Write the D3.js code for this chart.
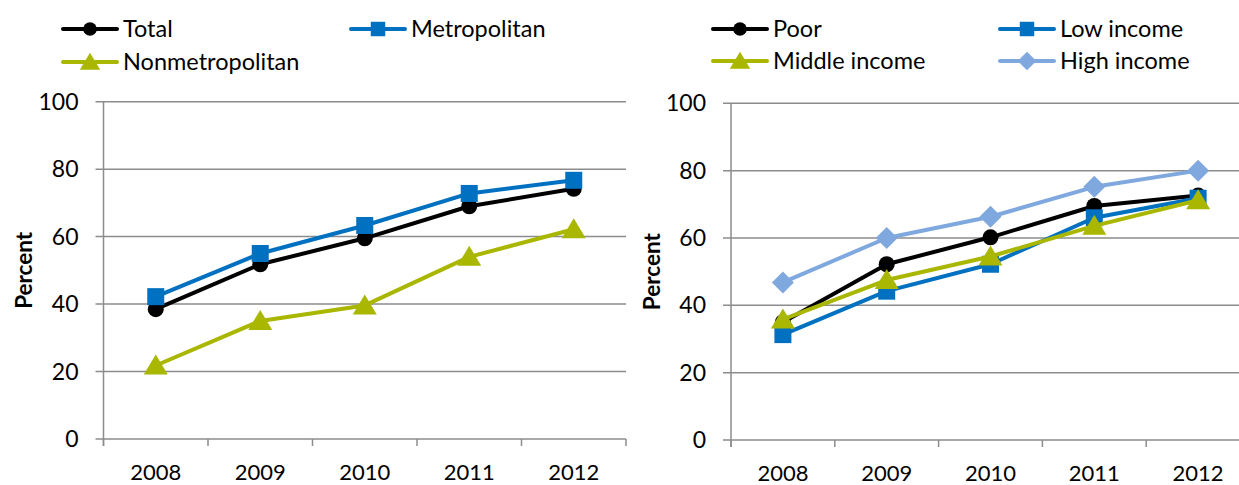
<!DOCTYPE html>
<html>
<head>
<meta charset="utf-8">
<script src="https://cdn.jsdelivr.net/npm/d3@7"></script>
<style>
  body { margin: 0; background: #fff; }
  text { font-family: Lato, "Open Sans", sans-serif; fill: #000; }
</style>
</head>
<body>
<svg id="chart" width="1239" height="485"></svg>
<script>
// data
let years = ["2008", "2009", "2010", "2011", "2012"];
let yTicks = [0, 20, 40, 60, 80, 100];

let total = [38.5, 51.8, 59.5, 69.0, 74.2];
let metropolitan = [42.2, 55.0, 63.3, 72.8, 76.7];
let nonmetropolitan = [21.8, 35.0, 39.6, 54.0, 62.2];

let poor = [35.0, 52.2, 60.2, 69.5, 72.6];
let lowIncome = [31.3, 44.2, 52.2, 66.0, 71.8];
let middleIncome = [35.8, 47.5, 54.5, 63.6, 71.2];
let highIncome = [46.8, 60.0, 66.3, 75.2, 80.0];

let black = "#000000", blue = "#0070c0", olive = "#a9b700", lightBlue = "#7fa8df";

let svg = d3.select("#chart");

// marker shapes
function marker(sel, shape, color, k) {
  k = k || 1;
  if (shape === "circle") {
    sel.append("circle").attr("r", 8 * k).attr("fill", color);
  } else if (shape === "square") {
    sel.append("rect").attr("x", -8.5 * k).attr("y", -8.5 * k)
      .attr("width", 17 * k).attr("height", 17 * k).attr("fill", color);
  } else if (shape === "triangle") {
    sel.append("path").attr("d", "M0,-11L12,9L-12,9Z").attr("fill", color)
      .attr("transform", "scale(" + k + ")");
  } else if (shape === "diamond") {
    sel.append("path").attr("d", "M0,-11L11,0L0,11L-11,0Z").attr("fill", color)
      .attr("transform", "scale(" + k + ")");
  }
}

function drawPanel(left, right, top, bottom, series, legendRows, legendCols) {
  let g = svg.append("g");

  let x = d3.scaleBand().domain(years).range([left, right]);
  let y = d3.scaleLinear().domain([0, 100]).range([bottom, top]);

  // gridlines
  g.selectAll(".grid").data(yTicks).enter().append("line")
    .attr("x1", left - 8).attr("x2", right)
    .attr("y1", d => y(d)).attr("y2", d => y(d))
    .attr("stroke", "#8c8c8c").attr("stroke-width", 1.5);

  // y axis line
  g.append("line")
    .attr("x1", left).attr("x2", left).attr("y1", top).attr("y2", bottom + 7)
    .attr("stroke", "#8c8c8c").attr("stroke-width", 1.5);

  // x ticks between categories
  let edges = years.map(d => x(d)).concat([right]);
  g.selectAll(".xt").data(edges).enter().append("line")
    .attr("x1", d => d).attr("x2", d => d)
    .attr("y1", bottom).attr("y2", bottom + 7)
    .attr("stroke", "#8c8c8c").attr("stroke-width", 1.5);

  // tick labels
  g.selectAll(".yl").data(yTicks).enter().append("text")
    .attr("x", left - 25).attr("y", d => y(d)).attr("dy", "0.35em")
    .attr("text-anchor", "end").attr("font-size", 23).text(d => d);

  g.selectAll(".xl").data(years).enter().append("text")
    .attr("x", d => x(d) + x.bandwidth() / 2).attr("y", bottom + 40.5)
    .attr("text-anchor", "middle").attr("font-size", 22).text(d => d);

  g.append("text")
    .attr("transform", "translate(" + (left - 79) + "," + ((top + bottom) / 2) + ") rotate(-90)")
    .attr("dy", "0.35em")
    .attr("text-anchor", "middle").attr("font-size", 22.5).attr("font-weight", "bold")
    .text("Percent");

  let line = d3.line().x((d, i) => x(years[i]) + x.bandwidth() / 2).y(d => y(d));

  series.forEach(function(s) {
    g.append("path").attr("d", line(s.values))
      .attr("fill", "none").attr("stroke", s.color).attr("stroke-width", 4)
      .attr("stroke-linejoin", "round");
    s.values.forEach(function(v, i) {
      let m = g.append("g")
        .attr("transform", "translate(" + (x(years[i]) + x.bandwidth() / 2) + "," + y(v) + ")");
      marker(m, s.shape, s.color);
    });
  });

  // legend
  series.forEach(function(s, i) {
    let lx = legendCols[i % 2], ly = legendRows[Math.floor(i / 2)];
    let lg = g.append("g").attr("transform", "translate(" + lx + "," + ly + ")");
    lg.append("line").attr("x1", 0).attr("x2", 54).attr("y1", 0).attr("y2", 0)
      .attr("stroke", s.color).attr("stroke-width", 4).attr("stroke-linecap", "round");
    let m = lg.append("g").attr("transform", "translate(27,0)");
    marker(m, s.shape, s.color, 0.85);
    lg.append("text").attr("x", 60).attr("y", 0).attr("dy", "0.35em")
      .attr("font-size", 23.5).text(s.name);
  });
}

drawPanel(103.5, 626, 101.7, 439, [
  { name: "Total", values: total, color: black, shape: "circle" },
  { name: "Metropolitan", values: metropolitan, color: blue, shape: "square" },
  { name: "Nonmetropolitan", values: nonmetropolitan, color: olive, shape: "triangle" }
], [29, 62], [63, 351]);

drawPanel(731, 1250, 103.3, 440, [
  { name: "Poor", values: poor, color: black, shape: "circle" },
  { name: "Low income", values: lowIncome, color: blue, shape: "square" },
  { name: "Middle income", values: middleIncome, color: olive, shape: "triangle" },
  { name: "High income", values: highIncome, color: lightBlue, shape: "diamond" }
], [29, 61], [713, 1000]);
</script>
</body>
</html>
